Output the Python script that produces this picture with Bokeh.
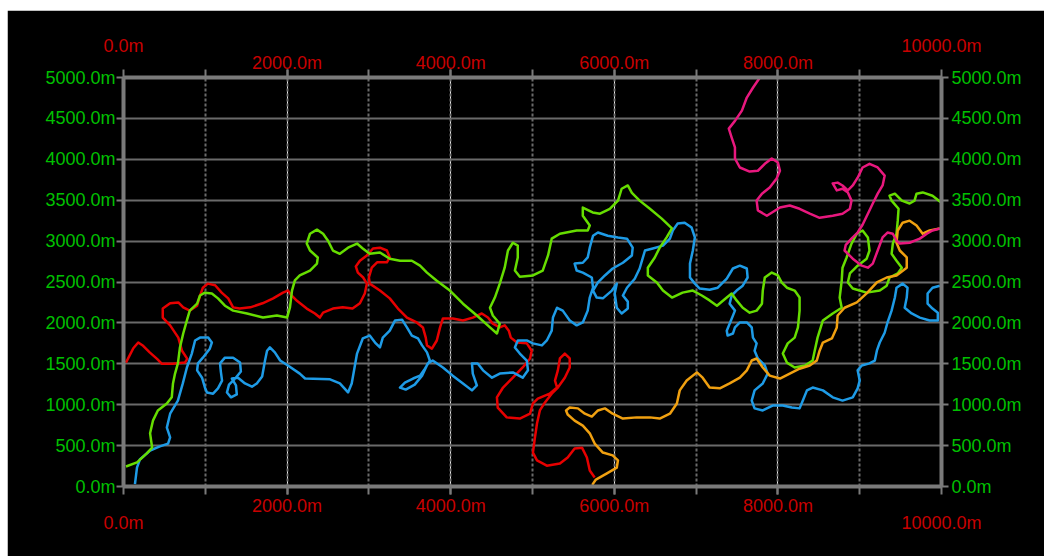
from bokeh.plotting import figure
from bokeh.models import LinearAxis, FixedTicker, PrintfTickFormatter, Range1d, Grid
from bokeh.embed import file_html
from bokeh.resources import INLINE

# ---- data (metres) ----
red_x = [30, 120, 180, 240, 320, 410, 470, 600, 750, 780, 715, 670, 570, 480, 480, 570, 670, 730, 810, 900,
         935, 970, 1030, 1120, 1200, 1280, 1340, 1420, 1550, 1700, 1830, 1950, 2010, 2060, 2120, 2240, 2340, 2400,
         2440, 2560, 2680, 2800, 2890, 2950, 2975, 2930, 2865, 2840, 2890, 2975, 3050, 3135, 3220, 3255, 3220,
         3100, 3035, 3000, 3010, 3135, 3255, 3355, 3465, 3585, 3660, 3695, 3710, 3770, 3830, 3870, 3905, 4025,
         4150, 4270, 4380, 4455, 4515, 4600, 4660, 4710, 4735, 4810, 4930, 4990, 4970, 4880, 4760, 4640, 4565,
         4575, 4685, 4845, 4970, 5005, 5065, 5210, 5300, 5275, 5310, 5335, 5395, 5455, 5455, 5395, 5310, 5235,
         5150, 5090, 5055, 5030, 5005, 5055, 5175, 5335, 5430, 5515, 5605, 5665, 5700, 5760]
red_y = [1515, 1690, 1760, 1720, 1640, 1560, 1500, 1500, 1515, 1560, 1660, 1820, 1970, 2065, 2175, 2240, 2250,
         2190, 2150, 2210, 2330, 2430, 2480, 2460, 2370, 2300, 2190, 2175, 2190, 2240, 2300, 2370, 2395, 2330,
         2270, 2175, 2115, 2065, 2125, 2175, 2190, 2175, 2240, 2360, 2480, 2555, 2615, 2690, 2760, 2825, 2910,
         2920, 2885, 2800, 2740, 2740, 2675, 2555, 2480, 2395, 2300, 2175, 2065, 2005, 1945, 1820, 1725, 1685,
         1785, 1945, 2055, 2055, 2030, 2065, 2115, 2065, 1990, 1945, 1970, 1905, 1820, 1760, 1750, 1660, 1565,
         1455, 1330, 1210, 1090, 965, 845, 830, 890, 1015, 1075, 1135, 1210, 1295, 1420, 1565, 1625, 1565, 1455,
         1330, 1210, 1135, 1025, 930, 770, 600, 415, 320, 255, 280, 355, 465, 475, 355, 195, 110]

green_x = [30, 165, 285, 350, 325, 360, 420, 530, 590, 605, 630, 665, 690, 730, 775, 810, 900, 935, 995, 1080,
           1155, 1240, 1340, 1510, 1705, 1875, 2000, 2035, 2060, 2095, 2155, 2280, 2365, 2375, 2280, 2240, 2280,
           2365, 2440, 2500, 2560, 2645, 2745, 2855, 2925, 3010, 3135, 3255, 3380, 3525, 3625, 3710, 3830, 3990,
           4150, 4320, 4480, 4565, 4600, 4515, 4480, 4540, 4600, 4660, 4700, 4760, 4820, 4820, 4785, 4845, 5005,
           5125, 5190, 5235, 5335, 5540, 5675, 5700, 5615, 5615, 5735, 5825, 5945, 6045, 6090, 6165, 6215, 6310,
           6435, 6580, 6705, 6640, 6555, 6495, 6410, 6410, 6520, 6595, 6705, 6835, 6960, 7070, 7165, 7255, 7375,
           7435, 7495, 7570, 7655, 7740, 7805, 7815, 7840, 7925, 8000, 8045, 8110, 8205, 8265, 8265, 8245, 8205,
           8120, 8060, 8110, 8205, 8330, 8425, 8450, 8485, 8550, 8670, 8780, 8755, 8780, 8790, 8840, 8900, 8965,
           9035, 9100, 9120, 9085, 8975, 8880, 8855, 8915, 9085, 9245, 9330, 9365, 9465, 9515, 9450, 9390, 9405,
           9450, 9465, 9475, 9390, 9365, 9430, 9515, 9610, 9670, 9695, 9770, 9890, 10000]
green_y = [245, 295, 405, 475, 650, 805, 930, 1015, 1090, 1260, 1380, 1505, 1700, 1870, 2030, 2150, 2235, 2335,
           2370, 2360, 2300, 2210, 2150, 2115, 2065, 2090, 2065, 2190, 2395, 2520, 2580, 2640, 2725, 2800, 2885,
           2970, 3090, 3140, 3090, 3005, 2885, 2845, 2920, 2970, 2910, 2845, 2860, 2785, 2760, 2760, 2700, 2615,
           2515, 2395, 2235, 2090, 1945, 1870, 1990, 2090, 2185, 2310, 2480, 2675, 2885, 2980, 2945, 2800, 2640,
           2565, 2580, 2640, 2825, 3030, 3090, 3130, 3130, 3190, 3310, 3410, 3350, 3335, 3395, 3495, 3640, 3680,
           3590, 3495, 3395, 3275, 3155, 3045, 2920, 2800, 2675, 2580, 2495, 2395, 2310, 2370, 2395, 2335, 2275,
           2210, 2310, 2360, 2275, 2185, 2125, 2150, 2235, 2395, 2555, 2615, 2580, 2495, 2430, 2395, 2310, 2150,
           1945, 1820, 1750, 1625, 1515, 1455, 1480, 1540, 1660, 1820, 2030, 2115, 2185, 2310, 2515, 2675, 2800,
           2970, 3090, 3130, 3045, 2885, 2785, 2700, 2605, 2495, 2420, 2370, 2395, 2455, 2555, 2605, 2675, 2760,
           2845, 2970, 3090, 3250, 3395, 3495, 3555, 3580, 3495, 3460, 3495, 3580, 3595, 3555, 3470]

blue_x = [140, 165, 200, 325, 445, 545, 570, 530, 570, 665, 725, 775, 835, 875, 935, 1035, 1080, 1055, 970, 910,
          900, 960, 995, 1020, 1095, 1155, 1205, 1190, 1180, 1240, 1340, 1425, 1435, 1365, 1290, 1265, 1315, 1385,
          1375, 1325, 1400, 1485, 1570, 1630, 1695, 1730, 1755, 1790, 1850, 1915, 2010, 2155, 2220, 2525, 2645,
          2745, 2790, 2855, 2925, 3010, 3075, 3135, 3170, 3255, 3320, 3405, 3465, 3525, 3600, 3650, 3710, 3745,
          3685, 3625, 3540, 3440, 3380, 3450, 3560, 3650, 3720, 3780, 3905, 4025, 4150, 4260, 4320, 4270, 4260,
          4330, 4395, 4505, 4600, 4760, 4880, 4945, 4930, 4845, 4785, 4820, 4930, 5005, 5115, 5175, 5235, 5250,
          5300, 5370, 5455, 5540, 5615, 5675, 5700, 5740, 5725, 5615, 5540, 5515, 5615, 5675, 5700, 5740, 5800,
          5920, 6045, 6155, 6225, 6215, 6105, 5980, 5885, 5800, 5740, 5785, 5860, 5970, 6030, 6005, 6030, 6090,
          6165, 6165, 6105, 6155, 6250, 6310, 6350, 6375, 6470, 6595, 6680, 6715, 6775, 6860, 6945, 6985, 6960,
          6925, 6925, 6985, 7045, 7165, 7265, 7375, 7450, 7535, 7620, 7630, 7570, 7495, 7435, 7410, 7475, 7410,
          7375, 7385, 7450, 7475, 7535, 7620, 7680, 7695, 7740, 7715, 7755, 7840, 7875, 7815, 7715, 7680, 7715,
          7815, 7935, 8060, 8170, 8265, 8305, 8355, 8425, 8550, 8670, 8790, 8915, 8975, 9000, 8975, 9025, 9120,
          9185, 9210, 9245, 9305, 9340, 9390, 9430, 9450, 9525, 9585, 9575, 9550, 9635, 9735, 9855, 9955, 9955,
          9890, 9830, 9830, 9890, 9980]
blue_y = [30, 230, 330, 440, 490, 525, 600, 720, 890, 1050, 1260, 1455, 1625, 1785, 1820, 1820, 1760, 1685, 1575,
          1505, 1420, 1330, 1210, 1150, 1135, 1200, 1295, 1405, 1505, 1575, 1575, 1515, 1405, 1320, 1245, 1150,
          1090, 1125, 1235, 1320, 1330, 1260, 1220, 1260, 1345, 1540, 1660, 1700, 1640, 1540, 1480, 1380, 1320,
          1310, 1260, 1150, 1260, 1625, 1810, 1845, 1760, 1700, 1820, 1905, 2030, 2040, 1945, 1845, 1810, 1725,
          1640, 1540, 1440, 1355, 1320, 1270, 1210, 1185, 1245, 1355, 1505, 1540, 1455, 1355, 1260, 1175, 1235,
          1380, 1505, 1505, 1420, 1330, 1380, 1395, 1330, 1420, 1540, 1625, 1700, 1785, 1785, 1750, 1725, 1785,
          1905, 2065, 2185, 2150, 2030, 1970, 2005, 2150, 2310, 2430, 2555, 2615, 2640, 2725, 2735, 2800, 2920,
          3065, 3105, 3065, 3045, 3030, 2920, 2825, 2735, 2665, 2580, 2495, 2395, 2310, 2300, 2395, 2480, 2360,
          2185, 2115, 2175, 2260, 2335, 2430, 2540, 2665, 2800, 2885, 2910, 2945, 3030, 3130, 3215, 3225, 3165,
          3045, 2885, 2725, 2555, 2480, 2420, 2405, 2430, 2540, 2665, 2700, 2665, 2555, 2455, 2395, 2335, 2235,
          2150, 1990, 1905, 1845, 1870, 1945, 2005, 2005, 1945, 1820, 1750, 1660, 1565, 1480, 1380, 1260, 1175,
          1050, 955, 930, 990, 990, 965, 955, 1050, 1175, 1210, 1175, 1090, 1050, 1090, 1200, 1295, 1420, 1480,
          1505, 1540, 1660, 1760, 1880, 2005, 2150, 2310, 2430, 2480, 2430, 2310, 2185, 2115, 2065, 2030, 2030,
          2125, 2175, 2235, 2360, 2430, 2455]

orange_x = [5730, 5775, 5910, 6030, 6045, 5980, 5860, 5760, 5700, 5615, 5515, 5430, 5410, 5455, 5555, 5640,
            5725, 5800, 5885, 5980, 6105, 6275, 6435, 6555, 6680, 6765, 6800, 6885, 7010, 7080, 7165, 7290, 7410,
            7535, 7620, 7680, 7740, 7815, 7900, 8025, 8145, 8265, 8390, 8475, 8510, 8550, 8660, 8720, 8730, 8815,
            8965, 9085, 9210, 9330, 9450, 9575, 9575, 9490, 9450, 9465, 9525, 9610, 9695, 9770, 9855, 9980]
orange_y = [20, 85, 160, 230, 320, 380, 415, 525, 650, 745, 805, 880, 930, 965, 955, 890, 855, 930, 955, 890,
            830, 845, 845, 830, 890, 1015, 1175, 1295, 1395, 1330, 1210, 1200, 1260, 1330, 1420, 1540, 1565, 1455,
            1355, 1320, 1380, 1440, 1480, 1540, 1660, 1760, 1810, 1945, 2090, 2185, 2250, 2360, 2495, 2555, 2580,
            2675, 2800, 2885, 2980, 3130, 3225, 3250, 3190, 3090, 3130, 3155]

magenta_x = [7780, 7695, 7620, 7560, 7475, 7400, 7435, 7475, 7475, 7535, 7655, 7755, 7840, 7925, 8000, 8025,
             7985, 7900, 7805, 7740, 7755, 7865, 8025, 8145, 8265, 8390, 8510, 8670, 8790, 8880, 8900, 8855, 8790,
             8720, 8670, 8730, 8790, 8855, 8915, 8975, 9035, 9120, 9220, 9305, 9280, 9220, 9160, 9100, 9035, 8975,
             8900, 8830, 8815, 8915, 9025, 9100, 9160, 9220, 9280, 9340, 9405, 9450, 9490, 9610, 9735, 9820, 9890,
             9980]
magenta_y = [5000, 4875, 4755, 4595, 4470, 4375, 4265, 4145, 4010, 3900, 3850, 3860, 3945, 4010, 3960, 3860,
             3765, 3655, 3580, 3495, 3375, 3310, 3410, 3435, 3395, 3335, 3285, 3310, 3335, 3395, 3495, 3595, 3640,
             3620, 3705, 3715, 3680, 3620, 3680, 3775, 3900, 3945, 3900, 3800, 3680, 3580, 3460, 3335, 3200, 3105,
             3030, 2955, 2885, 2785, 2700, 2675, 2725, 2885, 3045, 3105, 3090, 3005, 2970, 2980, 3030, 3090, 3130,
             3155]

x_label_ticks = [2000, 4000, 6000, 8000]
x_end_ticks = [0, 10000]
x_grid_ticks = [1000 * i for i in range(11)]
y_ticks = [500 * i for i in range(11)]

series = [
    (red_x, red_y, "#e60000"),
    (blue_x, blue_y, "#1e9be6"),
    (green_x, green_y, "#66dd00"),
    (orange_x, orange_y, "#f0a010"),
    (magenta_x, magenta_y, "#e8187e"),
]

RED_TXT = "#c80000"
GREEN_TXT = "#00c000"
AX = "#7a7a7a"
GRID = "#6a6a6a"
FONT = "Liberation Sans"
FS = "18px"

p = figure(frame_width=818, frame_height=409,
           x_range=Range1d(0, 10000), y_range=Range1d(0, 5000),
           x_axis_location=None, y_axis_location=None,
           min_border_left=116, min_border_right=103, min_border_top=67, min_border_bottom=70,
           background_fill_color="black", border_fill_color="black",
           output_backend="svg", toolbar_location=None)
p.margin = (10, 0, 0, 7)
p.outline_line_color = None

p.add_layout(Grid(dimension=0, ticker=FixedTicker(ticks=x_grid_ticks), grid_line_color=GRID,
                  grid_line_width=2, grid_line_dash="3 2"))
p.add_layout(Grid(dimension=1, ticker=FixedTicker(ticks=y_ticks), grid_line_color=GRID,
                  grid_line_width=2))

for xs, ys, c in series:
    p.line(xs, ys, line_color=c, line_width=2.5, line_join="round")


def x_axis(loc, standoff, end_standoff):
    ax = LinearAxis(ticker=FixedTicker(ticks=x_label_ticks, minor_ticks=x_grid_ticks),
                    formatter=PrintfTickFormatter(format="%.1fm"))
    ax.axis_line_color = AX
    ax.axis_line_width = 4
    ax.major_tick_line_color = AX
    ax.minor_tick_line_color = AX
    ax.major_tick_line_width = 2
    ax.minor_tick_line_width = 2
    ax.major_tick_in = 0
    ax.minor_tick_in = 0
    ax.major_tick_out = 8
    ax.minor_tick_out = 8
    ax.major_label_text_color = RED_TXT
    ax.major_label_text_font = FONT
    ax.major_label_text_font_size = FS
    ax.major_label_standoff = standoff
    p.add_layout(ax, loc)
    end = LinearAxis(ticker=FixedTicker(ticks=x_end_ticks),
                     formatter=PrintfTickFormatter(format="%.1fm"))
    end.axis_line_color = None
    end.major_tick_line_color = None
    end.minor_tick_line_color = None
    end.major_tick_out = 0
    end.major_tick_in = 0
    end.major_label_text_color = RED_TXT
    end.major_label_text_font = FONT
    end.major_label_text_font_size = FS
    end.major_label_standoff = end_standoff
    p.add_layout(end, loc)


def y_axis(loc, standoff):
    ax = LinearAxis(ticker=FixedTicker(ticks=y_ticks), formatter=PrintfTickFormatter(format="%.1fm"))
    ax.axis_line_color = AX
    ax.axis_line_width = 4
    ax.major_tick_line_color = AX
    ax.major_tick_line_width = 2
    ax.major_tick_in = 0
    ax.major_tick_out = 7
    ax.minor_tick_line_color = None
    ax.major_label_text_color = GREEN_TXT
    ax.major_label_text_font = FONT
    ax.major_label_text_font_size = FS
    ax.major_label_standoff = standoff
    p.add_layout(ax, loc)


x_axis("below", 1, -6)
x_axis("above", -3, -6)
y_axis("left", 1)
y_axis("right", 3)

open("out.html", "w").write(file_html(p, INLINE))
